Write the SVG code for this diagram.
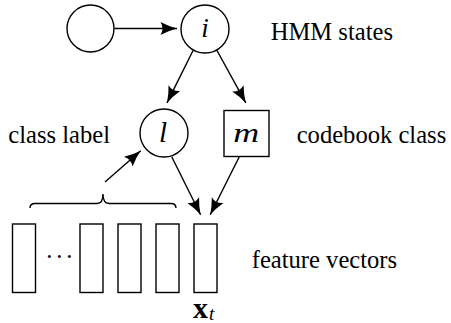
<svg xmlns="http://www.w3.org/2000/svg" width="451" height="323" viewBox="0 0 451 323">
  <style>
    .shape { fill: #ffffff; stroke: #000000; stroke-width: 1.4; }
    .edge { fill: none; stroke: #000000; stroke-width: 1.4; }
    .label { font-family: "Liberation Serif", serif; font-size: 24.6px; fill: #000000; }
    .math { font-family: "Liberation Serif", serif; font-style: italic; fill: #000000; }
  </style>
  <defs>
    <marker id="arrow" viewBox="-18 -8 19 16" refX="0" refY="0" markerWidth="19" markerHeight="16" markerUnits="userSpaceOnUse" orient="auto">
      <path d="M -16.5,-6.5 Q -8,-2 0,0 Q -8,2 -16.5,6.5 Q -12.5,0 -16.5,-6.5 Z" fill="#000000"/>
    </marker>
  </defs>

  <!-- connectors -->
  <g id="connectors">
    <line class="edge" x1="114.5" y1="28.5" x2="177" y2="28.5" marker-end="url(#arrow)"/>
    <line class="edge" x1="193.3" y1="50" x2="167" y2="102.9" marker-end="url(#arrow)"/>
    <line class="edge" x1="216.7" y1="50" x2="245.8" y2="102.9" marker-end="url(#arrow)"/>
    <line class="edge" x1="171.7" y1="156.7" x2="200.6" y2="214.8" marker-end="url(#arrow)"/>
    <line class="edge" x1="239.3" y1="156.7" x2="210.2" y2="214.8" marker-end="url(#arrow)"/>
    <line class="edge" x1="105" y1="182" x2="140.7" y2="150.8" marker-end="url(#arrow)"/>
  </g>

  <!-- previous HMM state -->
  <g id="state-prev">
    <circle class="shape" cx="90.5" cy="28.5" r="23.5"/>
  </g>

  <!-- current HMM state i -->
  <g id="state-i">
    <circle class="shape" cx="205" cy="29" r="24"/>
    <text class="math" x="205" y="36.5" font-size="27" text-anchor="middle">i</text>
  </g>

  <!-- class label l -->
  <g id="class-l">
    <circle class="shape" cx="164" cy="133" r="24"/>
    <text class="math" x="163" y="141.7" font-size="29" text-anchor="middle">l</text>
  </g>

  <!-- codebook class m -->
  <g id="codebook-m">
    <rect class="shape" x="224" y="110.5" width="45" height="46"/>
    <text class="math" x="246.3" y="141.7" font-size="28" text-anchor="middle" textLength="26" lengthAdjust="spacingAndGlyphs">m</text>
  </g>

  <!-- feature vector sequence -->
  <g id="feature-vectors">
    <rect class="shape" x="12.5" y="224" width="23" height="68.5"/>
    <rect class="shape" x="80" y="224" width="23" height="68.5"/>
    <rect class="shape" x="118" y="224" width="23" height="68.5"/>
    <rect class="shape" x="156" y="224" width="23" height="68.5"/>
    <text class="label" x="45.3 55.3 65.3" y="264.5">···</text>
  </g>

  <!-- current observation x_t -->
  <g id="feature-xt">
    <rect class="shape" x="194" y="224" width="23" height="68.5"/>
    <text x="193" y="318" font-family="'Liberation Serif', serif" font-size="30" font-weight="bold">x<tspan class="math" font-weight="normal" font-size="19" dx="1" dy="1.5">t</tspan></text>
  </g>

  <!-- brace grouping the context vectors -->
  <g id="context-brace">
    <path class="edge" d="M 30,208 Q 30,203.5 35,203.5 L 97,203.5 Q 103,203.5 103,194 Q 103,203.5 109,203.5 L 171,203.5 Q 176,203.5 176,208"/>
  </g>

  <!-- annotations -->
  <g id="annotations">
    <text class="label" x="270.7" y="40">HMM states</text>
    <text class="label" x="8.3" y="143.3">class label</text>
    <text class="label" x="296.7" y="143.3">codebook class</text>
    <text class="label" x="251.7" y="268.3">feature vectors</text>
  </g>
</svg>
